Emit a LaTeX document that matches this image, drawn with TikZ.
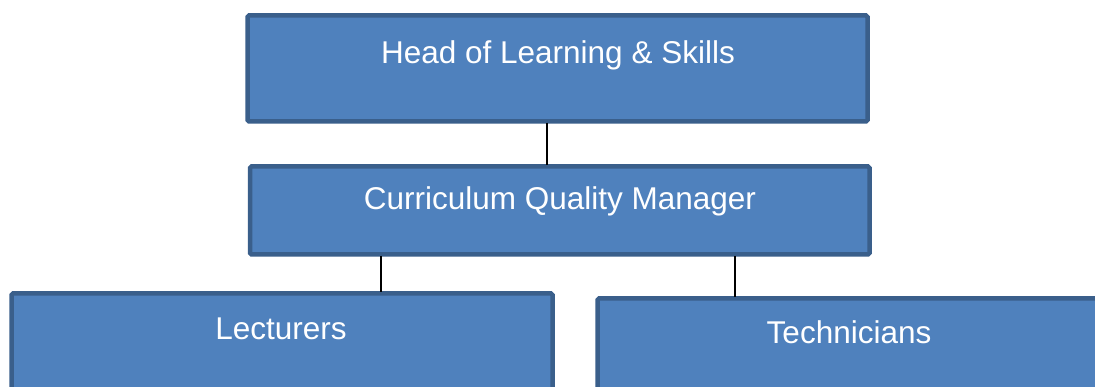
\documentclass[tikz,border=0pt]{standalone}
\usepackage{fontspec}
\setmainfont{Liberation Sans}
\definecolor{boxfill}{HTML}{4F81BD}
\definecolor{boxline}{HTML}{3A5F8B}
\begin{document}
\begin{tikzpicture}[x=1pt,y=-1pt,
  orgbox/.style={draw=boxline,fill=boxfill,line width=4.5pt,rounded corners=1.5pt},
  orgtext/.style={text=white,font=\fontsize{31.5}{36}\selectfont,inner sep=0pt,anchor=base},
  link/.style={draw=black,line width=1.4pt}]
\useasboundingbox (0,0) rectangle (1095,387);
\clip (0,0) rectangle (1095,387);
\fill[white] (0,0) rectangle (1095,387);
% boxes
\draw[orgbox] (247.5,15.5) rectangle (867.5,121.5);
\draw[orgbox] (250,166.5) rectangle (869.5,254.5);
\draw[orgbox] (11.5,293.5) rectangle (552.5,400);
\draw[orgbox] (597.5,298.5) rectangle (1110,400);
% anchor coordinates for connectors
\coordinate (headb) at (547,123);
\coordinate (cqmt) at (547,165);
\coordinate (cqmbl) at (381,256);
\coordinate (lectt) at (381,292);
\coordinate (cqmbr) at (735,256);
\coordinate (techt) at (735,297);
\draw[link] (headb) -- (cqmt);
\draw[link] (cqmbl) -- (lectt);
\draw[link] (cqmbr) -- (techt);
% texts
\node[orgtext] (head) at (558,63.5) {Head of Learning \& Skills};
\node[orgtext] (cqm) at (560,210) {Curriculum Quality Manager};
\node[orgtext] (lect) at (281,339.5) {Lecturers};
\node[orgtext] (tech) at (849,344) {Technicians};
\end{tikzpicture}
\end{document}
